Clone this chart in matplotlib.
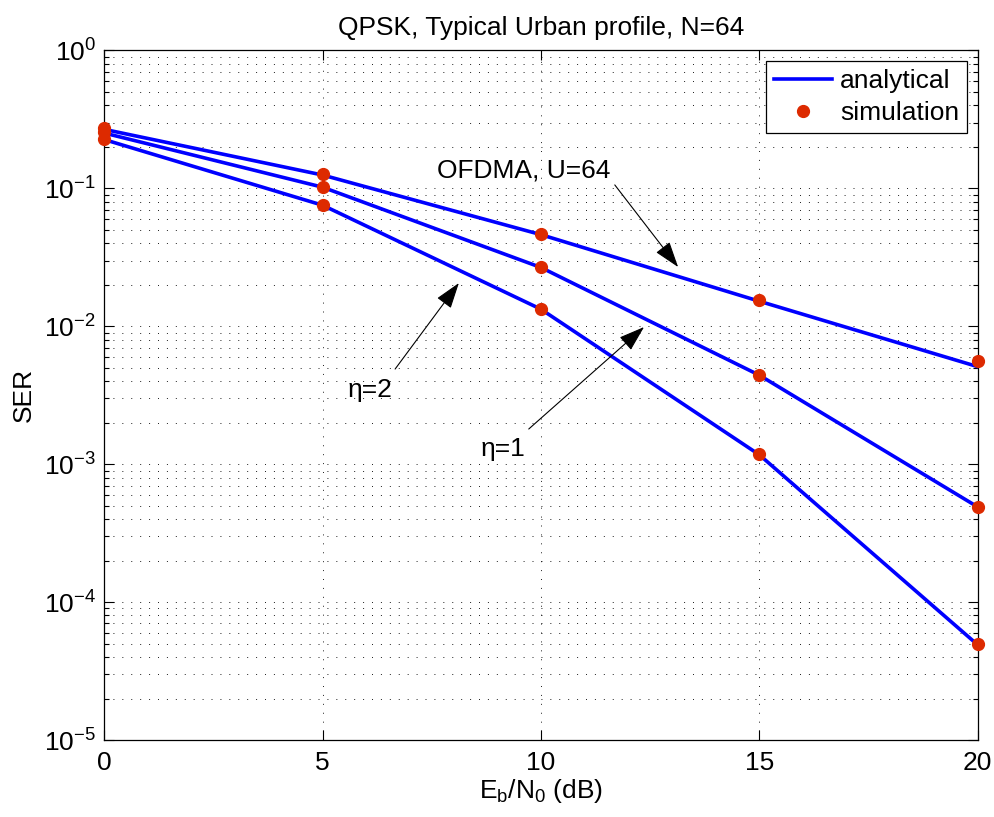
import numpy as np
import matplotlib
matplotlib.use("Agg")
import matplotlib.pyplot as plt
from matplotlib.lines import Line2D
from matplotlib.ticker import LogLocator, NullFormatter

# ---------------- DATA ----------------
ebn0_db = [0, 5, 10, 15, 20]

# analytical curves
ana_ofdma = [0.268, 0.125, 0.0462, 0.0152, 0.0051]
ana_eta2 = [0.252, 0.102, 0.0267, 0.00442, 0.00049]
ana_eta1 = [0.226, 0.0755, 0.0133, 0.00117, 4.9e-5]

# simulation points
sim_ofdma = [0.272, 0.127, 0.0467, 0.0155, 0.0056]
sim_eta2 = [0.255, 0.103, 0.0269, 0.00444, 0.00049]
sim_eta1 = [0.229, 0.0758, 0.0134, 0.00119, 5.0e-5]
# --------------------------------------

plt.rcParams["font.family"] = ["Liberation Sans", "DejaVu Sans"]
plt.rcParams["mathtext.fontset"] = "custom"
plt.rcParams["mathtext.rm"] = "Liberation Sans"
plt.rcParams["mathtext.it"] = "Liberation Sans"
plt.rcParams["font.size"] = 19

blue = "#0000ff"
red = "#dd2a00"
fs = 19

fig = plt.figure(figsize=(9.95, 8.17), dpi=100)
ax = fig.add_axes([0.1048, 0.0942, 0.8778, 0.844])

for ana in (ana_ofdma, ana_eta2, ana_eta1):
    ax.plot(ebn0_db, ana, color=blue, lw=2.6, zorder=3)
for sim in (sim_ofdma, sim_eta2, sim_eta1):
    ax.plot(ebn0_db, sim, "o", color=red, ms=8.5, zorder=4, clip_on=False)

ax.set_yscale("log")
ax.set_xlim(0, 20)
ax.set_ylim(1e-5, 1)
ax.set_xticks([0, 5, 10, 15, 20])
ax.yaxis.set_major_locator(LogLocator(base=10, numticks=10))
ax.yaxis.set_minor_locator(LogLocator(base=10, subs=np.arange(2, 10), numticks=20))
ax.yaxis.set_minor_formatter(NullFormatter())

ax.grid(True, which="major", color="black", lw=0.6, linestyle=(0, (1.2, 9.5)))
ax.grid(True, which="minor", axis="y", color="black", lw=0.6, linestyle=(0, (1.2, 9.5)))

ax.tick_params(which="both", direction="in", top=True, right=True, width=0.8)
ax.tick_params(which="major", length=7, labelsize=fs)
ax.tick_params(axis="x", which="major", pad=8)
ax.tick_params(axis="y", which="major", pad=6)
ax.tick_params(which="minor", length=3.5)
for sp in ax.spines.values():
    sp.set_linewidth(0.9)

ax.set_title("QPSK, Typical Urban profile, N=64", fontsize=fs, pad=11)
ax.set_xlabel(r"E$_\mathrm{b}$/N$_\mathrm{0}$ (dB)", fontsize=fs, labelpad=1)
ax.set_ylabel("SER", fontsize=fs, labelpad=6)

arrow = dict(arrowstyle="-|>,head_length=0.9,head_width=0.3", color="black",
             lw=0.8, shrinkA=0, shrinkB=0, mutation_scale=18)
ax.annotate("", xy=(13.14, 0.0269), xytext=(11.69, 0.106), arrowprops=arrow)
ax.text(9.61, 0.134, "OFDMA, U=64", ha="center", va="center", fontsize=fs)
ax.annotate("", xy=(8.12, 0.0206), xytext=(6.66, 0.0049), arrowprops=arrow)
ax.text(6.08, 0.00345, "\u03b7=2", ha="center", va="center", fontsize=fs)
ax.annotate("", xy=(12.36, 0.00988), xytext=(9.72, 0.0018), arrowprops=arrow)
ax.text(9.13, 0.00129, "\u03b7=1", ha="center", va="center", fontsize=fs)

handles = [
    Line2D([], [], color=blue, lw=2.6, label="analytical"),
    Line2D([], [], color=red, marker="o", ls="none", ms=8.5, label="simulation"),
]
leg = ax.legend(handles=handles, loc="upper right", fancybox=False, framealpha=1,
                edgecolor="black", fontsize=fs, borderaxespad=0.4,
                handlelength=2.2, handletextpad=0.3, borderpad=0.3,
                labelspacing=0.3)
leg.get_frame().set_linewidth(0.9)

fig.savefig("out.png", dpi=100)
